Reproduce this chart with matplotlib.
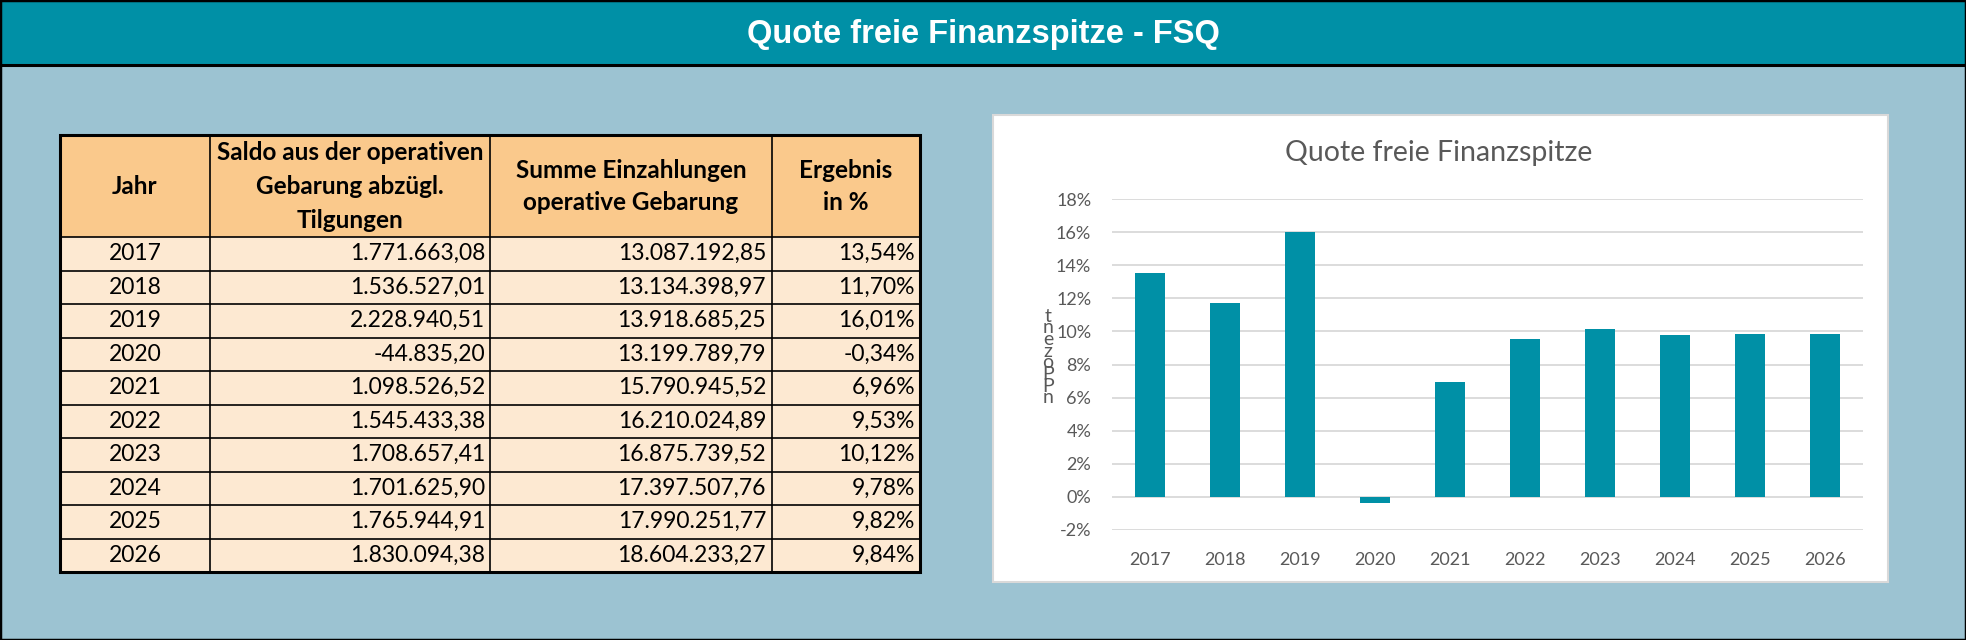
import numpy as np
import matplotlib.pyplot as plt
from matplotlib.patches import Rectangle
from matplotlib.lines import Line2D

# Daten
jahre = [2017, 2018, 2019, 2020, 2021, 2022, 2023, 2024, 2025, 2026]
saldo = [1771663.08, 1536527.01, 2228940.51, -44835.20, 1098526.52,
         1545433.38, 1708657.41, 1701625.90, 1765944.91, 1830094.38]
summe = [13087192.85, 13134398.97, 13918685.25, 13199789.79, 15790945.52,
         16210024.89, 16875739.52, 17397507.76, 17990251.77, 18604233.27]
ergebnis = [13.54, 11.70, 16.01, -0.34, 6.96, 9.53, 10.12, 9.78, 9.82, 9.84]
kopf = [["Jahr"],
        ["Saldo aus der operativen", "Gebarung abzügl.", "Tilgungen"],
        ["Summe Einzahlungen", "operative Gebarung"],
        ["Ergebnis", "in %"]]
y_ticks = [-2, 0, 2, 4, 6, 8, 10, 12, 14, 16, 18]
titel = "Quote freie Finanzspitze - FSQ"
chart_titel = "Quote freie Finanzspitze"
y_label = "t\nn\ne\nz\no\nP\nP\nn"

TEAL = '#0090A6'
GRAU = '#595959'
W, H = 1966, 640

fig = plt.figure(figsize=(W / 100, H / 100), dpi=100)
fig.patch.set_facecolor('#9CC3D2')


def fx(x):
    return x / W


def fy(y):
    return 1 - y / H


def box(x0, y0, x1, y1, fc, ec='none', lw=0, z=1):
    fig.add_artist(Rectangle((fx(x0), fy(y1)), fx(x1) - fx(x0), fy(y0) - fy(y1),
                             transform=fig.transFigure, facecolor=fc,
                             edgecolor=ec, linewidth=lw, zorder=z))


def linie(x0, y0, x1, y1, lw, c='black', z=3):
    fig.add_artist(Line2D([fx(x0), fx(x1)], [fy(y0), fy(y1)],
                          transform=fig.transFigure, color=c, lw=lw, zorder=z))


def de(v, nachkomma=2):
    s = f"{v:,.{nachkomma}f}"
    return s.replace(",", "X").replace(".", ",").replace("X", ".")


# Titelbalken
box(0, 0, W, 65, TEAL)
linie(0, 65, W, 65, 2.2)
fig.text(0.5, fy(34), titel, ha='center', va='center', color='white',
         fontsize=23.5, fontweight='bold', family=['Liberation Sans', 'DejaVu Sans'])

# Tabelle
spalten = [60, 210, 490, 772, 920]
t_top, h_bot, t_bot = 135, 237, 572
zeile = (t_bot - h_bot) / len(jahre)
box(spalten[0], t_top, spalten[-1], h_bot, '#FAC98C')
box(spalten[0], h_bot, spalten[-1], t_bot, '#FDE9D2')
for x in spalten[1:-1]:
    linie(x, t_top, x, t_bot, 1.2)
for i in range(len(jahre)):
    linie(spalten[0], h_bot + i * zeile, spalten[-1], h_bot + i * zeile, 1.2)
fig.add_artist(Rectangle((fx(spalten[0]), fy(t_bot)), fx(spalten[-1]) - fx(spalten[0]),
                         fy(t_top) - fy(t_bot), transform=fig.transFigure,
                         facecolor='none', edgecolor='black', lw=2.2, zorder=4))

zeilen_y = {1: [186], 2: [170, 203], 3: [153, 186, 220]}
for j, lines in enumerate(kopf):
    xc = (spalten[j] + spalten[j + 1]) / 2
    for txt, yy in zip(lines, zeilen_y[len(lines)]):
        fig.text(fx(xc), fy(yy), txt, ha='center', va='center', fontsize=17.5,
                 fontweight='bold', family='Lato', zorder=5)

for i, j in enumerate(jahre):
    yy = fy(h_bot + zeile * (i + 0.5))
    fig.text(fx((spalten[0] + spalten[1]) / 2), yy, str(j), ha='center', va='center',
             fontsize=16.5, family='Lato', zorder=5)
    fig.text(fx(spalten[2] - 5), yy, de(saldo[i]), ha='right', va='center',
             fontsize=16.5, family='Lato', zorder=5)
    fig.text(fx(spalten[3] - 6), yy, de(summe[i]), ha='right', va='center',
             fontsize=16.5, family='Lato', zorder=5)
    fig.text(fx(spalten[4] - 5), yy, de(ergebnis[i]) + "%", ha='right', va='center',
             fontsize=16.5, family='Lato', zorder=5)

# Diagramm
box(993, 115, 1888, 582, 'white', ec='#D9D9D9', lw=1.5, z=0.5)
ax = fig.add_axes([fx(1112), fy(530), (1863 - 1112) / W, (530 - 199) / H])
ax.set_zorder(2)
ax.set_facecolor('none')
x = np.arange(len(jahre))
ax.bar(x, ergebnis, width=0.4, color=TEAL, zorder=3)
ax.set_xlim(-0.5, len(jahre) - 0.5)
ax.set_ylim(-2, 18)
ax.set_yticks(y_ticks)
ax.set_yticklabels([f"{v}%" for v in y_ticks])
ax.set_xticks(x)
ax.set_xticklabels([str(j) for j in jahre])
ax.yaxis.grid(True, color='#D9D9D9', lw=1.3)
ax.set_axisbelow(True)
for s in ax.spines.values():
    s.set_visible(False)
ax.tick_params(length=0, colors=GRAU, labelsize=13)
ax.tick_params(axis='y', pad=15)
ax.tick_params(axis='x', pad=16)
for lab in ax.get_xticklabels() + ax.get_yticklabels():
    lab.set_family('Lato')

fig.text(fx(1439), fy(153), chart_titel, ha='center', va='center', fontsize=20.5,
         color=GRAU, family='Lato', zorder=5)
fig.text(fx(1048), fy(357), y_label, ha='center', va='center', fontsize=14,
         linespacing=0.62, color=GRAU, family='Lato', zorder=5)

# Rahmen
fig.add_artist(Rectangle((0, 0), 1, 1, transform=fig.transFigure, facecolor='none',
                         edgecolor='black', lw=2.5, zorder=10))

fig.savefig('out.png', dpi=100)
